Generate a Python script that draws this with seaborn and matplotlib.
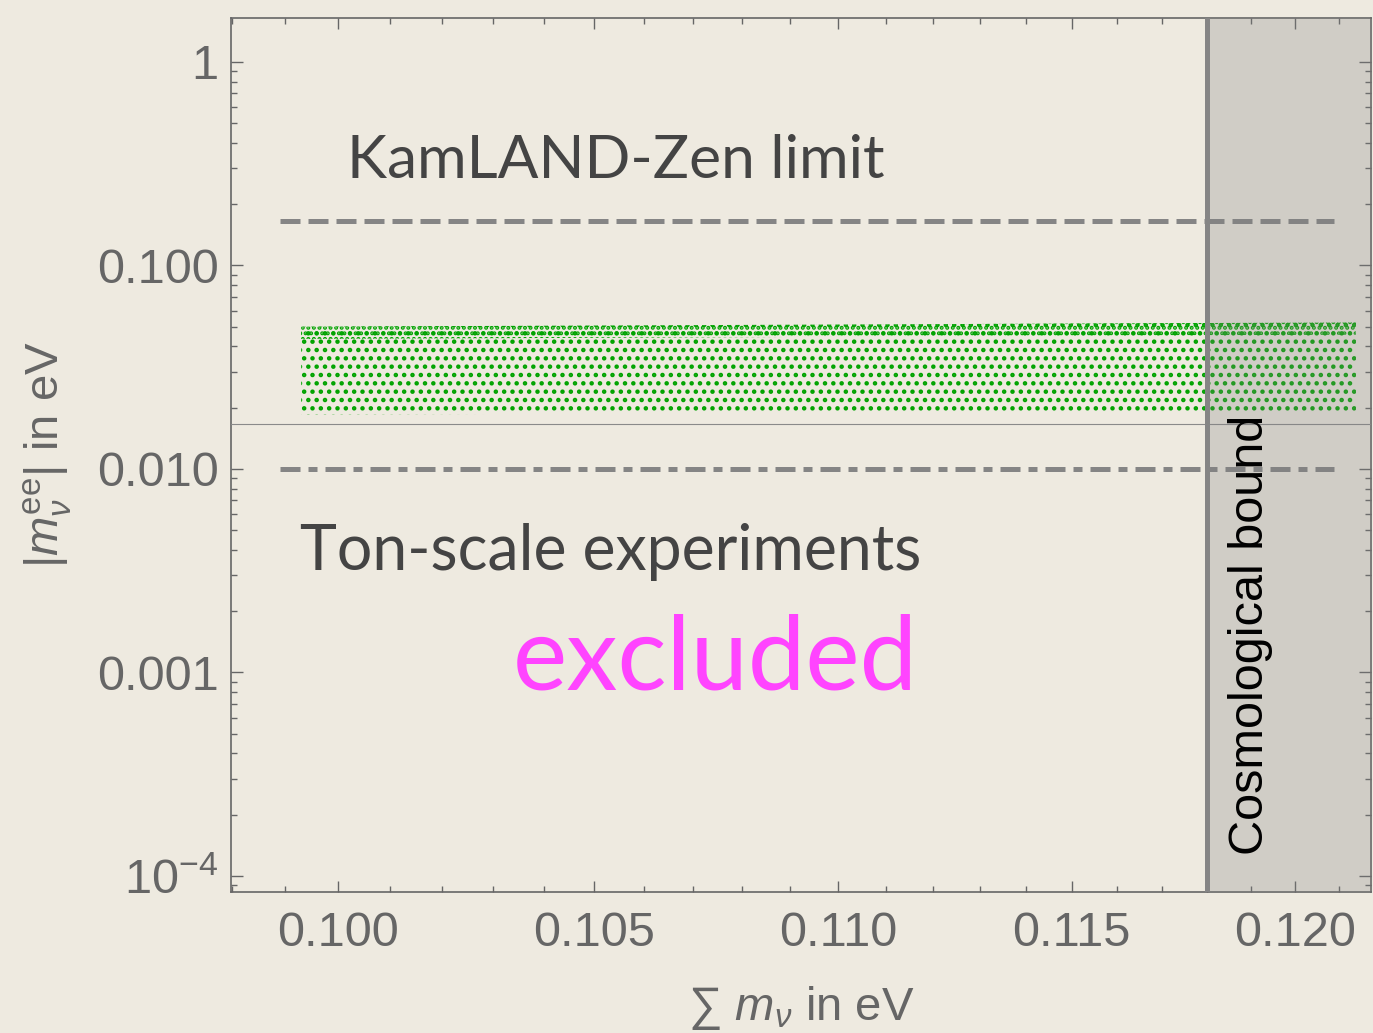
import matplotlib
matplotlib.use("Agg")
import matplotlib.pyplot as plt
import matplotlib.ticker as mticker
import seaborn as sns

# Band of scanned points (edges)
band_x = [0.0993, 0.1214]
band_upper = [0.0500, 0.0525]
band_lower = [0.0185, 0.0192]
band_dense = [0.0435, 0.0457]   # lower edge of the crowded strip at the top

# Limits and bounds
limit_x = [0.0989, 0.1209]
kamland_limit = 0.165
tonscale_limit = 0.0100
ref_line = 0.0167
cosmo_bound = 0.118

xticks = [0.100, 0.105, 0.110, 0.115, 0.120]
xtick_labels = ["0.100", "0.105", "0.110", "0.115", "0.120"]
xminor = [0.098, 0.099, 0.101, 0.102, 0.103, 0.104, 0.106, 0.107, 0.108, 0.109,
          0.111, 0.112, 0.113, 0.114, 0.116, 0.117, 0.118, 0.119, 0.121]
yticks = [1e-4, 1e-3, 1e-2, 1e-1, 1]
ytick_labels = [r"$10^{-4}$", "0.001", "0.010", "0.100", "1"]

bg = "#EEEAE0"
axis_grey = "#666666"
line_grey = "#858585"
green = "#00A300"

sns.set_theme(style="ticks", rc={
    "figure.facecolor": bg,
    "axes.facecolor": bg,
    "axes.edgecolor": axis_grey,
    "axes.linewidth": 1.2,
    "xtick.color": axis_grey,
    "ytick.color": axis_grey,
    "xtick.direction": "in",
    "ytick.direction": "in",
    "xtick.top": True,
    "ytick.right": True,
    "xtick.major.size": 8,
    "ytick.major.size": 8.5,
    "xtick.minor.size": 4,
    "ytick.minor.size": 4.3,
    "xtick.major.width": 1,
    "ytick.major.width": 1,
    "xtick.minor.width": 1,
    "ytick.minor.width": 1,
    "hatch.linewidth": 2.0,
})
plt.rcParams["font.family"] = ["Liberation Sans", "DejaVu Sans"]
plt.rcParams["mathtext.fontset"] = "custom"
plt.rcParams["mathtext.rm"] = "Liberation Sans"
plt.rcParams["mathtext.it"] = "Liberation Sans:italic"
plt.rcParams["mathtext.bf"] = "Liberation Sans:bold"

fig = plt.figure(figsize=(13.73, 10.33), dpi=100)
ax = fig.add_axes([0.1682, 0.1365, 0.8307, 0.8461])
ax.set_xscale("log")
ax.set_yscale("log")

# scanned band, drawn as a dotted texture
ax.fill_between(band_x, band_lower, band_upper, facecolor="none",
                edgecolor=green, hatch="..", linewidth=0, zorder=2)
ax.fill_between(band_x, band_dense, band_upper, facecolor="none",
                edgecolor=green, hatch="...", linewidth=0, zorder=2)

# experimental limits
sns.lineplot(x=limit_x, y=[kamland_limit] * 2, ax=ax, color=line_grey,
             lw=3.6, linestyle=(0, (4, 1.6)), zorder=3)
sns.lineplot(x=limit_x, y=[tonscale_limit] * 2, ax=ax, color=line_grey,
             lw=3.6, linestyle=(0, (4, 1.6, 1.8, 1.6)), zorder=3)
ax.axhline(ref_line, color="#8a8a8a", lw=0.8, zorder=3)

# cosmological bound
xmin, xmax = 0.09798, 0.12176
ax.axvspan(cosmo_bound, xmax, color="#808080", alpha=0.27, lw=0, zorder=4)
ax.axvline(cosmo_bound, color=line_grey, lw=3.6, zorder=5)

ax.set_xlim(xmin, xmax)
ax.set_ylim(8.34e-5, 1.645)

ax.xaxis.set_major_locator(mticker.FixedLocator(xticks))
ax.xaxis.set_major_formatter(mticker.FixedFormatter(xtick_labels))
ax.xaxis.set_minor_locator(mticker.FixedLocator(xminor))
ax.xaxis.set_minor_formatter(mticker.NullFormatter())
ax.yaxis.set_major_locator(mticker.FixedLocator(yticks))
ax.yaxis.set_major_formatter(mticker.FixedFormatter(ytick_labels))
ax.yaxis.set_minor_locator(mticker.LogLocator(base=10, subs=range(2, 10), numticks=20))
ax.yaxis.set_minor_formatter(mticker.NullFormatter())
ax.tick_params(axis="both", which="major", labelsize=35, labelcolor=axis_grey)
ax.tick_params(axis="x", which="major", pad=14)
ax.tick_params(axis="y", which="major", pad=9)

ax.set_xlabel(r"∑ $m_\nu$ in eV", fontsize=34, color=axis_grey, labelpad=20)
ax.set_ylabel(r"$|m_\nu^{\mathrm{ee}}|$ in eV", fontsize=34, color=axis_grey, labelpad=16)

ax.text(0.10017, 0.27, "KamLAND-Zen limit", fontsize=43.5, color="#444444",
        family="Lato", ha="left", va="baseline", zorder=6)
ax.text(0.09928, 0.0032, "Ton-scale experiments", fontsize=45, color="#444444",
        family="Lato", ha="left", va="baseline", zorder=6)
ax.text(0.10339, 0.00082, "excluded", fontsize=74, color="#FF44FF",
        family="Lato", ha="left", va="baseline", zorder=6)
ax.text(0.11898, 1.273e-4, "Cosmological bound", fontsize=35, color="black",
        rotation=90, ha="center", va="bottom", zorder=6)

fig.savefig("out.png", dpi=100, facecolor=bg)
